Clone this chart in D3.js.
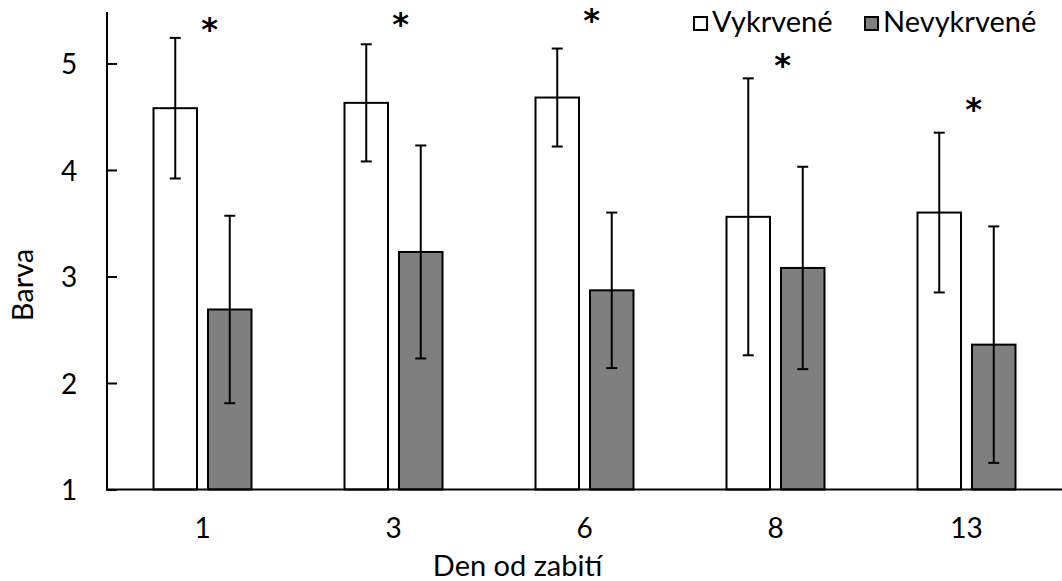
<!DOCTYPE html>
<html>
<head>
<meta charset="utf-8">
<script src="https://cdn.jsdelivr.net/npm/d3@7"></script>
<style>
  html, body { margin: 0; padding: 0; background: #fff; }
  svg { display: block; }
  text { font-family: Lato, "Open Sans", sans-serif; fill: #000; }
</style>
</head>
<body>
<svg id="chart" width="1062" height="581"></svg>
<script>
// Days after slaughter
const days = ["1", "3", "6", "8", "13"];
const seriesNames = ["Vykrvené", "Nevykrvené"];
// Mean colour score per day
const bledMeans   = [4.58, 4.63, 4.68, 3.56, 3.60];
const unbledMeans = [2.69, 3.23, 2.87, 3.08, 2.36];
// Standard deviations
const bledSD   = [0.66, 0.55, 0.46, 1.30, 0.75];
const unbledSD = [0.88, 1.00, 0.73, 0.95, 1.11];
// Significance marks (value level of each asterisk)
const sigDays   = ["1", "3", "6", "8", "13"];
const sigLevels = [5.38, 5.43, 5.46, 5.04, 4.63];
const yTicks = [1, 2, 3, 4, 5];

const rows = [];
days.forEach((d, i) => {
  rows.push({ day: d, series: seriesNames[0], mean: bledMeans[i], sd: bledSD[i] });
  rows.push({ day: d, series: seriesNames[1], mean: unbledMeans[i], sd: unbledSD[i] });
});

const svg = d3.select("#chart");
const mLeft = 107, mRight = 1062, mTop = 12, mBottom = 489.5;
const fontSize = "29px";

const x = d3.scaleBand().domain(days).range([mLeft, mRight]).paddingInner(0).paddingOuter(0);
const xs = d3.scaleBand().domain(seriesNames)
  .range([x.bandwidth() * 0.2435, x.bandwidth() * 0.7565]).paddingInner(0.202);
const y = d3.scaleLinear().domain([1, 5.483]).range([mBottom, mTop]);

const fill = d3.scaleOrdinal().domain(seriesNames).range(["#ffffff", "#7f7f7f"]);

// Bars
svg.append("g").selectAll("rect").data(rows).join("rect")
  .attr("x", d => x(d.day) + xs(d.series))
  .attr("y", d => y(d.mean))
  .attr("width", xs.bandwidth())
  .attr("height", d => y(1) - y(d.mean))
  .attr("fill", d => fill(d.series))
  .attr("stroke", "#000")
  .attr("stroke-width", 2);

// Error bars
const eb = svg.append("g").attr("stroke", "#000").attr("stroke-width", 2);
rows.forEach(d => {
  const cx = x(d.day) + xs(d.series) + xs.bandwidth() / 2;
  const y0 = y(d.mean - d.sd), y1 = y(d.mean + d.sd);
  eb.append("line").attr("x1", cx).attr("x2", cx).attr("y1", y0).attr("y2", y1);
  eb.append("line").attr("x1", cx - 5.5).attr("x2", cx + 5.5).attr("y1", y0).attr("y2", y0);
  eb.append("line").attr("x1", cx - 5.5).attr("x2", cx + 5.5).attr("y1", y1).attr("y2", y1);
});

// Y axis
const yAxis = svg.append("g").attr("transform", `translate(${mLeft},0)`)
  .call(d3.axisRight(y).tickValues(yTicks).tickSize(10).tickFormat(d3.format("d")));
yAxis.select(".domain").remove();
yAxis.selectAll(".tick line").attr("stroke", "#000").attr("stroke-width", 2);
yAxis.selectAll(".tick text")
  .attr("x", -38).attr("text-anchor", "middle").attr("dy", "0.36em")
  .style("font-size", "28px").style("font-family", "Lato, sans-serif");
svg.append("line").attr("x1", mLeft).attr("x2", mLeft).attr("y1", mTop).attr("y2", mBottom + 1)
  .attr("stroke", "#000").attr("stroke-width", 2);

// X axis
const xAxis = svg.append("g").attr("transform", `translate(0,${mBottom})`)
  .call(d3.axisBottom(x).tickSize(0));
xAxis.select(".domain").remove();
xAxis.selectAll(".tick text").attr("y", 48.5).attr("dy", 0)
  .style("font-size", "28px").style("font-family", "Lato, sans-serif");
svg.append("line").attr("x1", mLeft - 1).attr("x2", mRight).attr("y1", mBottom).attr("y2", mBottom)
  .attr("stroke", "#000").attr("stroke-width", 2);

// Axis titles
svg.append("text").attr("x", 517.5).attr("y", 576)
  .attr("text-anchor", "middle").style("font-size", fontSize).text("Den od zabití");
svg.append("text").attr("transform", "translate(33,285) rotate(-90)")
  .attr("text-anchor", "middle").style("font-size", fontSize).text("Barva");

// Significance asterisks
svg.append("g").selectAll("text").data(sigDays.map((d, i) => ({ day: d, level: sigLevels[i] })))
  .join("text")
  .attr("x", d => x(d.day) + x.bandwidth() / 2 + 7)
  .attr("y", d => y(d.level) + 17)
  .attr("text-anchor", "middle")
  .style("font-size", "32px")
  .style("font-weight", "bold")
  .style("font-family", "DejaVu Sans, sans-serif")
  .text("*");

// Legend
const legend = svg.append("g");
const legX = [693, 864];
seriesNames.forEach((s, i) => {
  legend.append("rect").attr("x", legX[i] + 1).attr("y", 17).attr("width", 13).attr("height", 13)
    .attr("fill", fill(s)).attr("stroke", "#000").attr("stroke-width", 2);
  legend.append("text").attr("x", legX[i] + 19).attr("y", 32)
    .style("font-size", fontSize).text(s);
});
</script>
</body>
</html>
